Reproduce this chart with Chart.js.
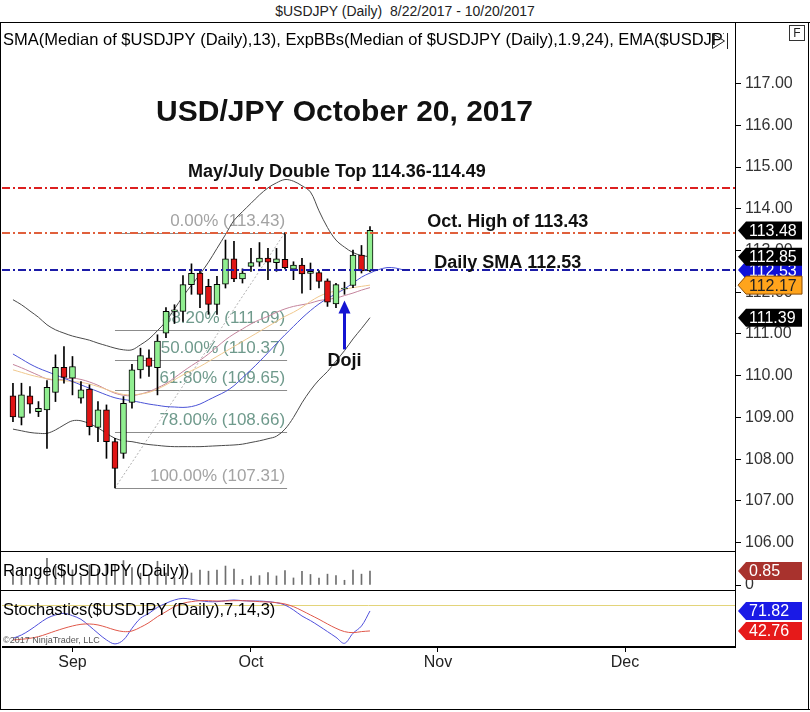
<!DOCTYPE html>
<html>
<head>
<meta charset="utf-8">
<script src="https://cdn.jsdelivr.net/npm/chart.js@4.4.0/dist/chart.umd.min.js"></script>
<style>
  body { margin: 0; background: #fff; font-family: "Liberation Sans", Arial, sans-serif; }
  #wrap { position: relative; width: 810px; height: 712px; overflow: hidden; }
  canvas { position: absolute; }
  .ln { position: absolute; background: #000; }
  #title { position: absolute; left: 0; top: 3px; width: 810px; text-align: center; font-size: 14px; color: #222; }
  #fbox { position: absolute; left: 789px; top: 25px; width: 14px; height: 14px; border: 1px solid #333; font-size: 12px; line-height: 14px; text-align: center; color: #222; }
</style>
</head>
<body>
<div id="wrap">
  <div id="title">$USDJPY (Daily)&nbsp; 8/22/2017 - 10/20/2017</div>
  <canvas id="main" width="806" height="528" style="left:2px;top:23px"></canvas>
  <canvas id="range" width="806" height="38" style="left:2px;top:552px"></canvas>
  <canvas id="stoch" width="806" height="119" style="left:2px;top:591px"></canvas>
  <div class="ln" style="left:0;top:22px;width:810px;height:1px"></div>
  <div class="ln" style="left:0;top:22px;width:1px;height:688px"></div>
  <div class="ln" style="left:808px;top:22px;width:1px;height:688px"></div>
  <div class="ln" style="left:0;top:709px;width:810px;height:1px"></div>
  <div class="ln" style="left:0;top:551px;width:736px;height:1px"></div>
  <div class="ln" style="left:0;top:590px;width:736px;height:1px"></div>
  <div id="fbox">F</div>
</div>
<script>
// trading days shown (one candle each)
const dates = ["8/23","8/24","8/25","8/28","8/29","8/30","8/31","9/1","9/4","9/5",
  "9/6","9/7","9/8","9/11","9/12","9/13","9/14","9/15","9/18","9/19",
  "9/20","9/21","9/22","9/25","9/26","9/27","9/28","9/29","10/2","10/3",
  "10/4","10/5","10/6","10/9","10/10","10/11","10/12","10/13","10/16","10/17",
  "10/18","10/19","10/20"];

const opens = [109.52,109.00,109.52,109.14,109.18,109.60,110.20,109.94,109.46,109.68,
  108.76,109.18,108.42,108.14,109.36,110.14,110.43,110.19,111.02,111.54,
  111.54,112.18,112.46,112.14,111.71,112.19,112.80,112.32,112.62,112.72,
  112.82,112.71,112.79,112.55,112.65,112.45,112.47,112.27,111.72,112.08,
  112.16,112.89,112.51];
const highs = [109.82,109.82,109.74,109.38,109.88,110.50,110.70,110.46,109.86,109.78,
  109.38,109.30,108.50,109.50,110.27,110.66,110.62,110.98,111.63,111.70,
  112.40,112.68,112.54,112.31,112.38,113.25,113.22,112.56,113.05,113.19,
  113.05,113.05,113.43,112.73,112.81,112.70,112.52,112.32,112.21,112.24,
  113.01,113.12,113.57];
const lows = [108.90,108.82,109.10,109.02,108.26,109.38,109.82,109.54,109.34,108.58,
  108.42,108.02,107.31,108.02,109.22,109.94,109.98,109.54,110.91,111.25,
  111.30,111.95,111.63,111.47,111.47,112.10,112.25,112.22,112.50,112.62,
  112.30,112.50,112.56,112.30,111.98,112.06,112.10,111.66,111.63,111.95,
  112.11,112.46,112.49];
const closes = [109.01,109.54,109.32,109.22,109.72,110.20,109.96,110.22,109.66,108.78,
  109.18,108.42,107.78,109.34,110.14,110.48,110.22,110.83,111.54,111.58,
  112.18,112.45,111.95,111.71,112.19,112.80,112.32,112.46,112.71,112.82,
  112.72,112.80,112.59,112.65,112.44,112.50,112.26,111.76,112.18,112.10,
  112.89,112.51,113.48];

const upperBand = [111.82,111.70,111.55,111.40,111.22,111.10,111.02,110.95,110.90,110.85,
  110.78,110.72,110.66,110.62,110.62,110.74,110.88,111.08,111.30,111.60,
  111.90,112.17,112.43,112.72,113.05,113.38,113.72,113.93,114.13,114.33,
  114.50,114.62,114.70,114.66,114.55,114.40,113.95,113.55,113.25,113.08,
  112.95,112.88,112.85];
const lowerBand = [108.72,108.68,108.64,108.62,108.62,108.70,108.82,108.92,108.92,108.85,
  108.75,108.62,108.50,108.44,108.42,108.38,108.35,108.33,108.31,108.30,
  108.30,108.30,108.30,108.31,108.32,108.33,108.34,108.36,108.40,108.44,
  108.49,108.55,108.72,109.00,109.35,109.65,109.90,110.10,110.35,110.60,
  110.88,111.13,111.39];
const midBand = [110.27,110.19,110.10,110.01,109.92,109.90,109.92,109.94,109.91,109.85,
  109.77,109.67,109.58,109.53,109.52,109.56,109.62,109.71,109.81,109.95,
  110.10,110.24,110.37,110.52,110.69,110.86,111.00,111.12,111.24,111.34,
  111.42,111.52,111.60,111.66,111.70,111.74,111.80,111.83,111.86,111.92,
  111.98,112.05,112.11];
// SMA is drawn shifted forward, so it runs a few bars past the last candle
const smaLine = [110.52,110.40,110.28,110.18,110.10,110.02,109.94,109.86,109.78,109.70,
  109.62,109.54,109.47,109.43,109.40,109.36,109.32,109.29,109.26,109.25,
  109.24,109.26,109.32,109.42,109.52,109.62,109.76,109.95,110.14,110.34,
  110.55,110.77,110.98,111.18,111.38,111.56,111.72,111.85,111.96,112.08,
  112.22,112.36,112.46,112.54,112.59,112.58,112.53];
const emaLine = [110.14,110.08,110.02,109.97,109.93,109.90,109.88,109.86,109.84,109.80,
  109.74,109.67,109.60,109.55,109.54,109.56,109.60,109.68,109.78,109.90,
  110.02,110.12,110.22,110.34,110.46,110.58,110.70,110.82,110.94,111.06,
  111.18,111.30,111.42,111.52,111.64,111.78,111.90,111.98,112.03,112.07,
  112.11,112.14,112.17];

const rangeVals = [0.92,1.00,0.64,0.36,1.62,1.12,0.88,0.92,0.52,1.20,
  0.96,1.28,1.19,1.48,1.05,0.72,0.64,1.44,0.72,0.45,
  1.10,0.73,0.91,0.84,0.91,1.15,0.97,0.34,0.55,0.57,
  0.75,0.55,0.87,0.43,0.83,0.64,0.42,0.66,0.58,0.29,
  0.90,0.66,0.85];

const stochK = [32.1,36.9,44.2,52.9,61.2,66.0,68.4,65.0,59.7,50.0,
  39.4,29.7,23.9,29.7,46.6,61.2,68.4,77.1,83.0,87.8,
  90.2,88.8,86.8,85.4,85.4,86.8,87.8,86.8,86.3,86.3,
  85.4,83.9,80.5,73.3,64.5,57.8,50.0,41.8,33.5,24.8,
  39.4,50.0,71.82];
const stochD = [29.7,30.6,32.1,34.5,38.4,42.7,46.6,50.0,52.4,52.9,
  51.5,48.1,44.2,41.8,42.7,48.1,54.9,63.6,70.8,78.1,
  83.0,85.4,86.8,86.8,86.3,86.3,86.8,86.8,86.3,85.4,
  84.9,83.9,82.0,78.1,72.3,66.0,59.7,52.9,46.6,41.8,
  40.3,41.8,42.76];

const priceTicks = [106,107,108,109,110,111,112,113,114,115,116,117];
const monthLabels = ["Sep", "Oct", "Nov", "Dec"];
const monthBars = [7, 28, 50, 72];

const levelValues = [114.49, 113.43, 112.53];
const fibNames = ["0.00%", "38.20%", "50.00%", "61.80%", "78.00%", "100.00%"];
const fibValues = [113.43, 111.09, 110.37, 109.65, 108.66, 107.31];
const fibStartBar = 12, fibEndBar = 32.25;

const xMin = -1.29, xMax = 84.94;
const FONT = '"Liberation Sans", Arial, sans-serif';
Chart.defaults.font.family = FONT;

function pts(arr) {
  return arr.map((v, i) => ({ x: i, y: v }));
}

function drawTag(ctx, area, py, text, fill, color, stroke) {
  const tip = area.right + 3, left = area.right + 11, right = 800, h = 9;
  ctx.beginPath();
  ctx.moveTo(tip, py);
  ctx.lineTo(left, py - h);
  ctx.lineTo(right, py - h);
  ctx.lineTo(right, py + h);
  ctx.lineTo(left, py + h);
  ctx.closePath();
  ctx.fillStyle = fill;
  ctx.fill();
  if (stroke) {
    ctx.strokeStyle = stroke;
    ctx.lineWidth = 1;
    ctx.stroke();
  }
  ctx.fillStyle = color;
  ctx.font = "16px " + FONT;
  ctx.textAlign = "left";
  ctx.textBaseline = "middle";
  ctx.fillText(text, left + 3, py + 1);
}

// fixed axis width, and no extra room kept for the end labels
function fixedWidth(scale) {
  scale.width = 73;
  scale.paddingTop = 0;
  scale.paddingBottom = 0;
}

const mainDecor = {
  id: "mainDecor",
  beforeDatasetsDraw(chart) {
    const { ctx, chartArea: a, scales: { x, y } } = chart;
    ctx.save();
    ctx.beginPath();
    ctx.rect(a.left, a.top, a.right - a.left, a.bottom - a.top);
    ctx.clip();
    const x0 = x.getPixelForValue(fibStartBar), x1 = x.getPixelForValue(fibEndBar);
    ctx.font = "17px " + FONT;
    ctx.textAlign = "right";
    ctx.textBaseline = "middle";
    fibValues.forEach((v, k) => {
      const py = Math.round(y.getPixelForValue(v)) + 0.5;
      ctx.strokeStyle = "#8c8c8c";
      ctx.lineWidth = 1;
      ctx.beginPath();
      ctx.moveTo(x0, py);
      ctx.lineTo(x1, py);
      ctx.stroke();
      const edge = k === 0 || k === fibValues.length - 1;
      ctx.fillStyle = edge ? "#a3a3a3" : "#6f9a8c";
      ctx.fillText(fibNames[k] + " (" + v.toFixed(2) + ")", x1 - 2, py - 12);
    });
    // diagonal from swing low to swing high
    ctx.setLineDash([2, 2]);
    ctx.strokeStyle = "#b0b0b0";
    ctx.beginPath();
    ctx.moveTo(x0, y.getPixelForValue(fibValues[fibValues.length - 1]));
    ctx.lineTo(x.getPixelForValue(32), y.getPixelForValue(fibValues[0]));
    ctx.stroke();
    ctx.restore();
  },
  afterDatasetsDraw(chart) {
    const { ctx, chartArea: a, scales: { x, y } } = chart;
    ctx.save();
    ctx.beginPath();
    ctx.rect(a.left, a.top, a.right - a.left, a.bottom - a.top);
    ctx.clip();
    const levelColors = ["#dc2020", "#e0603c", "#1c1ca8"];
    levelValues.forEach((v, k) => {
      const py = Math.round(y.getPixelForValue(v));
      ctx.setLineDash([8, 3, 2, 3]);
      ctx.strokeStyle = levelColors[k];
      ctx.lineWidth = 2;
      ctx.beginPath();
      ctx.moveTo(a.left, py);
      ctx.lineTo(a.right, py);
      ctx.stroke();
    });
    ctx.setLineDash([]);

    ctx.fillStyle = "#111";
    ctx.textAlign = "center";
    ctx.textBaseline = "middle";
    ctx.font = "bold 30px " + FONT;
    ctx.fillText("USD/JPY October 20, 2017", x.getPixelForValue(39), y.getPixelForValue(116.30));
    ctx.font = "bold 18px " + FONT;
    ctx.fillText("May/July Double Top 114.36-114.49", x.getPixelForValue(38.1), y.getPixelForValue(114.89));
    ctx.fillText("Oct. High of 113.43", x.getPixelForValue(58.2), y.getPixelForValue(113.67));
    ctx.fillText("Daily SMA 112.53", x.getPixelForValue(58.2), y.getPixelForValue(112.71));
    ctx.fillText("Doji", x.getPixelForValue(39), y.getPixelForValue(110.34));

    // arrow pointing at the doji
    const ax = x.getPixelForValue(39);
    const tipY = y.getPixelForValue(111.80), baseY = y.getPixelForValue(110.63);
    ctx.strokeStyle = "#1414d2";
    ctx.fillStyle = "#1414d2";
    ctx.lineWidth = 3;
    ctx.beginPath();
    ctx.moveTo(ax, baseY);
    ctx.lineTo(ax, tipY + 10);
    ctx.stroke();
    ctx.beginPath();
    ctx.moveTo(ax, tipY);
    ctx.lineTo(ax - 6, tipY + 13);
    ctx.lineTo(ax + 6, tipY + 13);
    ctx.closePath();
    ctx.fill();

    // indicator caption
    ctx.font = "16.5px " + FONT;
    ctx.fillStyle = "#000";
    ctx.textAlign = "left";
    ctx.fillText("SMA(Median of $USDJPY (Daily),13), ExpBBs(Median of $USDJPY (Daily),1.9,24), EMA($USDJPY", a.left + 1, a.top + 17);
    ctx.fillStyle = "#fff";
    ctx.fillRect(722, a.top + 8, 11, 19);
    ctx.strokeStyle = "#222";
    ctx.lineWidth = 1;
    ctx.beginPath();
    ctx.moveTo(710.5, a.top + 10.5);
    ctx.lineTo(722.5, a.top + 18);
    ctx.lineTo(710.5, a.top + 25.5);
    ctx.closePath();
    ctx.moveTo(725.5, a.top + 10);
    ctx.lineTo(725.5, a.top + 26);
    ctx.stroke();
    ctx.restore();
  },
  afterDraw(chart) {
    const { ctx, chartArea: a, scales: { y } } = chart;
    const last = arr => arr[arr.length - 1];
    ctx.save();
    drawTag(ctx, a, y.getPixelForValue(last(smaLine)), last(smaLine).toFixed(2), "#1010d8", "#fff");
    drawTag(ctx, a, y.getPixelForValue(last(closes)), last(closes).toFixed(2), "#000", "#fff");
    drawTag(ctx, a, y.getPixelForValue(last(upperBand)), last(upperBand).toFixed(2), "#000", "#fff");
    drawTag(ctx, a, y.getPixelForValue(last(lowerBand)), last(lowerBand).toFixed(2), "#000", "#fff");
    drawTag(ctx, a, y.getPixelForValue(last(emaLine)), last(emaLine).toFixed(2), "#ffa41c", "#222", "#8a4a00");
    ctx.restore();
  }
};

const bodies = opens.map((o, i) => ({ x: i, y: [o, closes[i]] }));
const bodyColors = opens.map((o, i) => (closes[i] >= o ? "#90ee90" : "#e01414"));
const wicks = lows.map((l, i) => ({ x: i, y: [l, highs[i]] }));

function lineSet(arr, color, order) {
  return {
    type: "line",
    data: pts(arr),
    borderColor: color,
    borderWidth: 1,
    pointRadius: 0,
    tension: 0.35,
    order: order
  };
}

new Chart(document.getElementById("main"), {
  type: "bar",
  data: {
    datasets: [
      { data: bodies, backgroundColor: bodyColors, borderColor: "#000", borderWidth: 1, borderSkipped: false, barThickness: 6, grouped: false, order: 0 },
      { data: wicks, backgroundColor: "#000", barThickness: 1, grouped: false, order: 1 },
      lineSet(upperBand, "#4a4a4a", 5),
      lineSet(lowerBand, "#4a4a4a", 5),
      lineSet(midBand, "#c4849c", 4),
      lineSet(emaLine, "#f0c88e", 3),
      lineSet(smaLine, "#4a52d6", 2)
    ]
  },
  options: {
    responsive: false,
    animation: false,
    events: [],
    layout: { padding: 0 },
    plugins: { legend: { display: false }, tooltip: { enabled: false } },
    scales: {
      x: { type: "linear", min: xMin, max: xMax, offset: false, display: false },
      y: {
        position: "right",
        min: 105.80,
        max: 118.45,
        beginAtZero: false,
        afterBuildTicks: s => { s.ticks = priceTicks.map(v => ({ value: v })); },
        afterFit: fixedWidth,
        ticks: { callback: v => v.toFixed(2), font: { size: 16 }, color: "#333", padding: 4 },
        grid: { drawOnChartArea: false, tickLength: 6, color: "#000" },
        border: { color: "#000" }
      }
    }
  },
  plugins: [mainDecor]
});

const rangeDecor = {
  id: "rangeDecor",
  afterDraw(chart) {
    const { ctx, chartArea: a, scales: { y } } = chart;
    ctx.save();
    ctx.font = "16.5px " + FONT;
    ctx.fillStyle = "#000";
    ctx.textAlign = "left";
    ctx.textBaseline = "middle";
    ctx.fillText("Range($USDJPY (Daily))", a.left + 1, 19);
    const v = rangeVals[rangeVals.length - 1];
    drawTag(ctx, a, y.getPixelForValue(v), v.toFixed(2), "#a8322d", "#fff");
    ctx.restore();
  }
};

new Chart(document.getElementById("range"), {
  type: "bar",
  data: {
    datasets: [{ data: pts(rangeVals), backgroundColor: "#6e6e6e", barThickness: 1 }]
  },
  options: {
    responsive: false,
    animation: false,
    events: [],
    layout: { padding: 0 },
    plugins: { legend: { display: false }, tooltip: { enabled: false } },
    scales: {
      x: { type: "linear", min: xMin, max: xMax, offset: false, display: false },
      y: {
        position: "right",
        min: -0.3,
        max: 2.0,
        afterBuildTicks: s => { s.ticks = [{ value: 0 }]; },
        afterFit: fixedWidth,
        ticks: { callback: () => "0", font: { size: 16 }, color: "#333", padding: 4 },
        grid: { drawOnChartArea: false, tickLength: 6, color: "#000" },
        border: { color: "#000" }
      }
    }
  },
  plugins: [rangeDecor]
});

const stochDecor = {
  id: "stochDecor",
  beforeDatasetsDraw(chart) {
    const { ctx, chartArea: a, scales: { y } } = chart;
    ctx.save();
    const py = Math.round(y.getPixelForValue(80)) + 0.5;
    ctx.strokeStyle = "#e3d47a";
    ctx.lineWidth = 1;
    ctx.beginPath();
    ctx.moveTo(a.left, py);
    ctx.lineTo(a.right, py);
    ctx.stroke();
    ctx.restore();
  },
  afterDraw(chart) {
    const { ctx, chartArea: a, scales: { y } } = chart;
    ctx.save();
    ctx.font = "16.5px " + FONT;
    ctx.fillStyle = "#000";
    ctx.textAlign = "left";
    ctx.textBaseline = "middle";
    ctx.fillText("Stochastics($USDJPY (Daily),7,14,3)", a.left + 1, 19);
    ctx.font = "9px " + FONT;
    ctx.fillStyle = "#555";
    ctx.fillText("\u00a92017 NinjaTrader, LLC", a.left + 1, 50);
    const k = stochK[stochK.length - 1], d = stochD[stochD.length - 1];
    drawTag(ctx, a, y.getPixelForValue(k), k.toFixed(2), "#1a1ae6", "#fff");
    drawTag(ctx, a, y.getPixelForValue(d), d.toFixed(2), "#e61a1a", "#fff");
    ctx.restore();
  }
};

new Chart(document.getElementById("stoch"), {
  type: "line",
  data: {
    datasets: [
      { data: pts(stochD), borderColor: "#e0584a", borderWidth: 1, pointRadius: 0, tension: 0.35 },
      { data: pts(stochK), borderColor: "#5050dc", borderWidth: 1, pointRadius: 0, tension: 0.35 }
    ]
  },
  options: {
    responsive: false,
    animation: false,
    events: [],
    layout: { padding: 0 },
    plugins: { legend: { display: false }, tooltip: { enabled: false } },
    scales: {
      x: {
        type: "linear",
        min: xMin,
        max: xMax,
        offset: false,
        afterBuildTicks: s => { s.ticks = monthBars.map(v => ({ value: v })); },
        afterFit: s => { s.height = 63; s.paddingLeft = 0; s.paddingRight = 0; },
        ticks: { callback: (v, i) => monthLabels[i], font: { size: 16 }, color: "#222", padding: 1, maxRotation: 0, autoSkip: false },
        grid: { drawOnChartArea: false, tickLength: 5, color: "#000" },
        border: { color: "#000", width: 2 }
      },
      y: {
        position: "right",
        min: 19.4,
        max: 100.9,
        afterFit: fixedWidth,
        ticks: { display: false },
        grid: { display: false },
        border: { color: "#000" }
      }
    }
  },
  plugins: [stochDecor]
});
</script>
</body>
</html>
